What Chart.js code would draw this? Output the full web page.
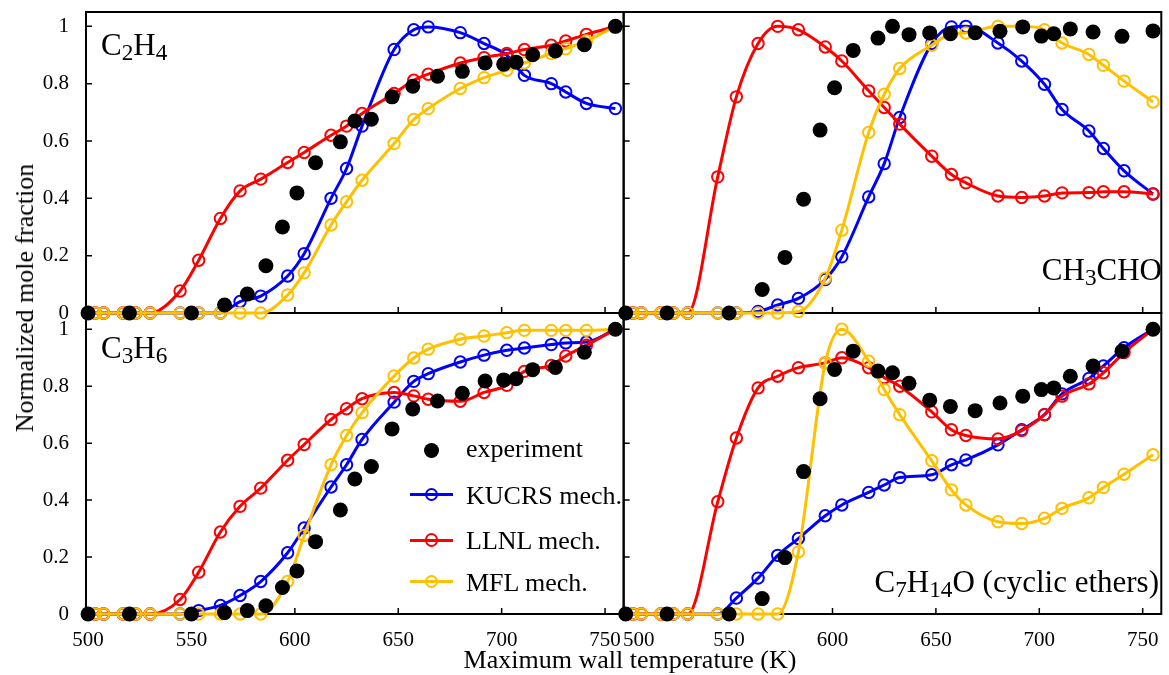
<!DOCTYPE html>
<html>
<head>
<meta charset="utf-8">
<script src="https://cdn.jsdelivr.net/npm/chart.js@4/dist/chart.umd.min.js"></script>
<style>
  body { margin: 0; background: #fff; }
  #wrap { position: relative; width: 1169px; height: 675px; font-family: 'Liberation Serif', 'Times New Roman', serif; color: #000; }
  canvas { position: absolute; left: 0; top: 0; }
  .lbl { position: absolute; white-space: nowrap; line-height: 1; }
  .sub { font-size: 0.75em; vertical-align: -0.22em; }
  .leg-line { position: absolute; height: 3px; width: 43px; left: 410px; }
  .leg-circ { position: absolute; width: 13.4px; height: 13.4px; left: 424.6px; box-sizing: border-box; border-radius: 50%; border: 2px solid; }
</style>
</head>
<body>
<div id="wrap">
  <canvas id="chart" width="1169" height="675"></canvas>

  <!-- panel labels -->
  <div class="lbl" style="left:101px; top:29px; font-size:31px">C<span class="sub">2</span>H<span class="sub">4</span></div>
  <div class="lbl" style="right:7px; top:254px; font-size:31px">CH<span class="sub">3</span>CHO</div>
  <div class="lbl" style="left:101px; top:332px; font-size:31px">C<span class="sub">3</span>H<span class="sub">6</span></div>
  <div class="lbl" style="right:10px; top:566px; font-size:31px">C<span class="sub">7</span>H<span class="sub">14</span>O (cyclic ethers)</div>

  <!-- axis titles -->
  <div class="lbl" style="left:25px; top:298px; font-size:26px; transform: translate(-50%, -50%) rotate(-90deg)">Normalized mole fraction</div>
  <div class="lbl" style="left:630px; top:647px; font-size:26px; transform: translateX(-50%)">Maximum wall temperature (K)</div>

  <!-- legend (inside lower-left panel) -->
  <div style="position:absolute; left:424px; top:442.5px; width:15px; height:15px; border-radius:50%; background:#000"></div>
  <div class="lbl" style="left:466px; top:436px; font-size:26px">experiment</div>
  <div class="leg-line" style="top:493px; background:#0000ff"></div>
  <div class="leg-circ" style="top:487.6px; border-color:#0000ff"></div>
  <div class="lbl" style="left:466px; top:482.5px; font-size:26px">KUCRS mech.</div>
  <div class="leg-line" style="top:538.5px; background:#ff0000"></div>
  <div class="leg-circ" style="top:533.3px; border-color:#ff0000"></div>
  <div class="lbl" style="left:466px; top:527.5px; font-size:26px">LLNL mech.</div>
  <div class="leg-line" style="top:580.2px; background:#ffc000"></div>
  <div class="leg-circ" style="top:575px; border-color:#ffc000"></div>
  <div class="lbl" style="left:466px; top:570px; font-size:26px">MFL mech.</div>
</div>

<script>
// temperatures (K)
const tempExp = [500, 520, 550, 566, 577, 586, 594, 601, 610, 622, 629, 637, 647, 657, 669, 681, 692, 701, 707, 715, 726, 740, 755];
const tempModel = [500, 503.5, 507.5, 517, 523, 530, 544.5, 553.5, 564, 573.5, 583.5, 596.5, 604.5, 617.5, 625, 632.5,
                   648, 657.5, 664.5, 680, 691.5, 702.5, 711, 724, 731, 741, 755];

// axis ticks
const xTicks = [500, 550, 600, 650, 700, 750];
const yTicks = [0, 0.2, 0.4, 0.6, 0.8, 1];

// C2H4 (top left)
const expC2H4 = [0, 0, 0, 0.028, 0.066, 0.165, 0.30, 0.419, 0.524, 0.597, 0.67, 0.676, 0.754, 0.791, 0.826, 0.843, 0.872, 0.868, 0.875, 0.901, 0.914, 0.936, 1.0];
const kucrsC2H4 = [0, 0, 0, 0, 0, 0, 0, 0, 0, 0.04, 0.059, 0.129, 0.207, 0.40, 0.504, 0.652, 0.919, 0.988, 0.998, 0.978, 0.94, 0.899, 0.829, 0.80, 0.771, 0.731, 0.713];
const llnlC2H4 = [0, 0, 0, 0, 0, 0, 0.077, 0.184, 0.33, 0.426, 0.467, 0.525, 0.56, 0.62, 0.652, 0.696, 0.766, 0.812, 0.833, 0.872, 0.891, 0.905, 0.919, 0.934, 0.949, 0.972, 1.0];
const mflC2H4 = [0, 0, 0, 0, 0, 0, 0, 0, 0, 0, 0, 0.063, 0.14, 0.307, 0.388, 0.463, 0.591, 0.675, 0.713, 0.783, 0.821, 0.847, 0.872, 0.905, 0.922, 0.949, 1.0];

// CH3CHO (top right)
const expCH3CHO = [0, 0, 0, 0.082, 0.194, 0.397, 0.638, 0.786, 0.916, 0.959, 1.0, 0.971, 0.977, 0.974, 0.978, 0.983, 0.998, 0.966, 0.974, 0.991, 0.98, 0.965, 0.984];
const kucrsCH3CHO = [0, 0, 0, 0, 0, 0, 0, 0, 0.005, 0.028, 0.051, 0.117, 0.196, 0.405, 0.521, 0.682, 0.94, 0.998, 1.0, 0.942, 0.879, 0.798, 0.71, 0.635, 0.574, 0.496, 0.415];
const llnlCH3CHO = [0, 0, 0, 0, 0, 0, 0.475, 0.754, 0.94, 1.0, 0.988, 0.928, 0.879, 0.775, 0.717, 0.659, 0.547, 0.483, 0.454, 0.408, 0.403, 0.408, 0.419, 0.42, 0.423, 0.423, 0.415];
const mflCH3CHO = [0, 0, 0, 0, 0, 0, 0, 0, 0, 0, 0.005, 0.121, 0.289, 0.63, 0.763, 0.853, 0.934, 0.974, 0.977, 1.0, 1.0, 0.988, 0.942, 0.902, 0.864, 0.809, 0.736];

// C3H6 (bottom left)
const expC3H6 = [0, 0, 0, 0.005, 0.012, 0.029, 0.093, 0.151, 0.254, 0.365, 0.474, 0.518, 0.65, 0.72, 0.748, 0.775, 0.818, 0.822, 0.826, 0.858, 0.866, 0.919, 1.0];
const kucrsC3H6 = [0, 0, 0, 0, 0, 0, 0, 0.012, 0.03, 0.065, 0.114, 0.215, 0.302, 0.446, 0.524, 0.613, 0.744, 0.817, 0.844, 0.885, 0.909, 0.926, 0.934, 0.946, 0.952, 0.955, 1.0];
const llnlC3H6 = [0, 0, 0, 0, 0, 0, 0.051, 0.147, 0.288, 0.378, 0.442, 0.54, 0.595, 0.683, 0.721, 0.756, 0.778, 0.766, 0.754, 0.747, 0.778, 0.803, 0.852, 0.873, 0.906, 0.944, 1.0];
const mflC3H6 = [0, 0, 0, 0, 0, 0, 0, 0, 0, 0, 0, 0.114, 0.276, 0.524, 0.627, 0.707, 0.836, 0.899, 0.93, 0.965, 0.976, 0.988, 0.996, 0.996, 0.996, 0.996, 1.0];

// C7H14O cyclic ethers (bottom right)
const expC7H14O = [0, 0, 0, 0.054, 0.198, 0.5, 0.756, 0.859, 0.923, 0.853, 0.847, 0.81, 0.751, 0.729, 0.714, 0.741, 0.765, 0.788, 0.794, 0.835, 0.871, 0.923, 1.0];
const kucrsC7H14O = [0, 0, 0, 0, 0, 0, 0, 0.056, 0.126, 0.206, 0.265, 0.345, 0.383, 0.427, 0.453, 0.479, 0.489, 0.524, 0.541, 0.594, 0.647, 0.7, 0.773, 0.827, 0.871, 0.935, 1.0];
const llnlC7H14O = [0, 0, 0, 0, 0, 0, 0.394, 0.618, 0.794, 0.835, 0.865, 0.882, 0.9, 0.865, 0.83, 0.8, 0.71, 0.647, 0.627, 0.615, 0.644, 0.7, 0.765, 0.808, 0.847, 0.918, 1.0];
const mflC7H14O = [0, 0, 0, 0, 0, 0, 0, 0, 0, 0, 0.218, 0.882, 1.0, 0.888, 0.788, 0.7, 0.538, 0.436, 0.383, 0.324, 0.318, 0.336, 0.371, 0.408, 0.444, 0.491, 0.559];

const BLUE = "#0000ff", RED = "#ff0000", GOLD = "#ffc000";

const panels = [
    { x: "xL", y: "yT", exp: expC2H4, kucrs: kucrsC2H4, llnl: llnlC2H4, mfl: mflC2H4 },
    { x: "xR", y: "yT", exp: expCH3CHO, kucrs: kucrsCH3CHO, llnl: llnlCH3CHO, mfl: mflCH3CHO },
    { x: "xL", y: "yB", exp: expC3H6, kucrs: kucrsC3H6, llnl: llnlC3H6, mfl: mflC3H6 },
    { x: "xR", y: "yB", exp: expC7H14O, kucrs: kucrsC7H14O, llnl: llnlC7H14O, mfl: mflC7H14O }
];

const toXY = (temps, vals) => temps.map((t, i) => ({ x: t, y: vals[i] }));

function modelSet(label, color, vals, p, order) {
    return {
        label,
        data: toXY(tempModel, vals),
        xAxisID: p.x,
        yAxisID: p.y,
        order,
        borderColor: color,
        borderWidth: 3,
        pointRadius: 5.7,
        pointBorderWidth: 2,
        pointBorderColor: color,
        pointBackgroundColor: "rgba(0,0,0,0)",
        cubicInterpolationMode: "monotone",
        fill: false,
        clip: false
    };
}

const datasets = [];
panels.forEach(p => {
    datasets.push({
        label: "experiment",
        data: toXY(tempExp, p.exp),
        xAxisID: p.x,
        yAxisID: p.y,
        order: 0,
        showLine: false,
        pointRadius: 7.5,
        pointBorderWidth: 0,
        pointBackgroundColor: "#000",
        borderColor: "#000",
        clip: false
    });
    datasets.push(modelSet("MFL mech.", GOLD, p.mfl, p, 1));
    datasets.push(modelSet("LLNL mech.", RED, p.llnl, p, 2));
    datasets.push(modelSet("KUCRS mech.", BLUE, p.kucrs, p, 3));
});

// frame box + inward ticks for each panel
const panelFrame = {
    id: "panelFrame",
    beforeDatasetsDraw(chart) {
        const ctx = chart.ctx;
        ctx.save();
        ctx.strokeStyle = "#000";
        panels.forEach(p => {
            const xs = chart.scales[p.x];
            const ys = chart.scales[p.y];
            ctx.lineWidth = 2;
            ctx.strokeRect(xs.left, ys.top, xs.right - xs.left, ys.bottom - ys.top);
            ctx.lineWidth = 1.5;
            ctx.beginPath();
            xs.ticks.forEach(t => {
                const px = xs.getPixelForValue(t.value);
                ctx.moveTo(px, ys.bottom);
                ctx.lineTo(px, ys.bottom - 6);
            });
            ys.ticks.forEach(t => {
                const py = ys.getPixelForValue(t.value);
                ctx.moveTo(xs.left, py);
                ctx.lineTo(xs.left + 6, py);
            });
            ctx.stroke();
        });
        ctx.restore();
    }
};

Chart.defaults.font.family = "'Liberation Serif', 'Times New Roman', serif";
Chart.defaults.font.size = 21;
Chart.defaults.color = "#000";

// no extra room for overhanging labels, the panels must fill the frame exactly
const noPad = s => { s.paddingLeft = s.paddingRight = s.paddingTop = s.paddingBottom = 0; };

const xAxis = (weight, labelFn) => ({
    type: "linear",
    position: "bottom",
    stack: "x",
    stackWeight: 1,
    weight,
    min: 499,
    max: 759,
    grid: { display: false },
    border: { display: false },
    afterBuildTicks: s => { s.ticks = xTicks.map(v => ({ value: v })); },
    afterFit: s => { s.height = 61; noPad(s); },
    ticks: { autoSkip: false, maxRotation: 0, padding: 6, callback: labelFn }
});

const yAxis = (weight, max) => ({
    type: "linear",
    position: "left",
    stack: "y",
    stackWeight: 1,
    weight,
    min: 0,
    max,
    grid: { display: false },
    border: { display: false },
    afterBuildTicks: s => { s.ticks = yTicks.map(v => ({ value: v })); },
    afterFit: s => { s.width = 86; noPad(s); },
    ticks: { autoSkip: false, padding: 9, callback: v => String(v) }
});

new Chart(document.getElementById("chart"), {
    type: "line",
    data: { datasets },
    options: {
        responsive: false,
        animation: false,
        devicePixelRatio: 1,
        layout: { padding: { left: 0, right: 1, top: 12, bottom: 0 } },
        plugins: { legend: { display: false }, tooltip: { enabled: false } },
        scales: {
            xL: xAxis(1, v => String(v)),
            // first label of the right panel sits a bit to the right, as in the original
            xR: xAxis(2, (v, i) => (i === 0 ? "     " + v : String(v))),
            yT: yAxis(2, 1.05),
            yB: yAxis(1, 1.057)
        }
    },
    plugins: [panelFrame]
});
</script>
</body>
</html>
